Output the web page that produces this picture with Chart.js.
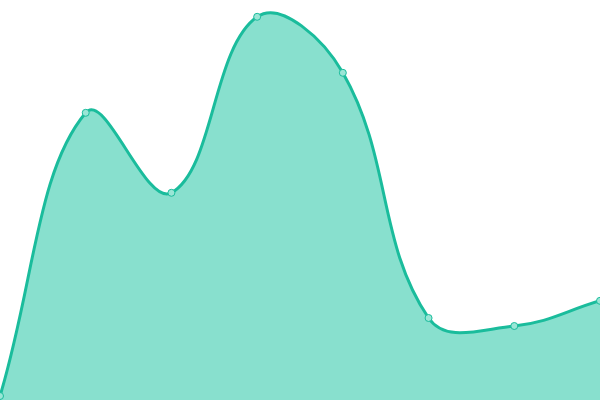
<!DOCTYPE html>
<html>
<head>
<meta charset="utf-8">
<script src="https://cdn.jsdelivr.net/npm/chart.js@4"></script>
<style>
  html, body { margin: 0; padding: 0; background: #fff; }
  #wrap { width: 600px; height: 400px; }
</style>
</head>
<body>
<div id="wrap"><canvas id="chart"></canvas></div>
<script>
// DATA
const labels = ["A", "B", "C", "D", "E", "F", "G", "H"];
const values = [1, 71.8, 51.8, 95.8, 81.8, 20.5, 18.5, 24.8];

const ctx = document.getElementById("chart").getContext("2d");

new Chart(ctx, {
    type: "line",
    data: {
        labels: labels,
        datasets: [{
            data: values,
            borderColor: "#1abc9c",
            backgroundColor: "#88e0ce",
            borderWidth: 3,
            tension: 0.4,
            fill: "start",
            pointRadius: 3.5,
            pointBorderWidth: 1,
            pointBackgroundColor: "#9ae6d6",
            pointBorderColor: "#1abc9c"
        }]
    },
    options: {
        responsive: true,
        maintainAspectRatio: false,
        animation: false,
        layout: { padding: 0, autoPadding: false },
        plugins: {
            legend: { display: false },
            tooltip: { enabled: false }
        },
        scales: {
            x: { display: false },
            y: { display: false, min: 0, max: 100 }
        }
    }
});
</script>
</body>
</html>
